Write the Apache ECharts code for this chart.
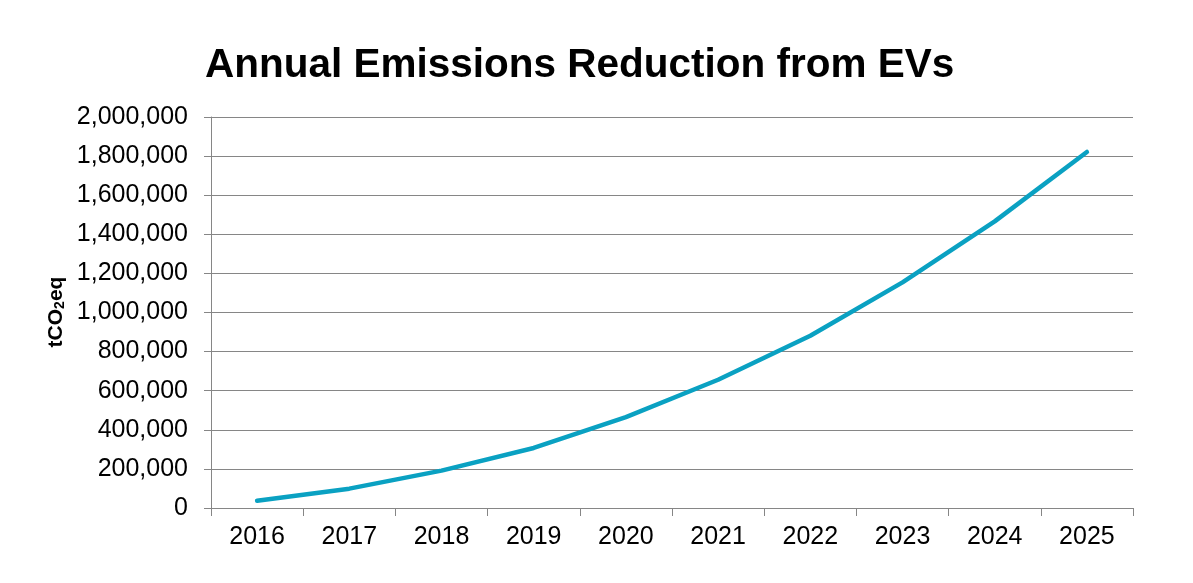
<!DOCTYPE html>
<html>
<head>
<meta charset="utf-8">
<script src="https://cdn.jsdelivr.net/npm/echarts@6/dist/echarts.min.js"></script>
<style>
html,body{margin:0;padding:0;background:#fff;}
#chart{width:1193px;height:583px;}
</style>
</head>
<body>
<div id="chart"></div>
<script>
const titleText = 'Annual Emissions Reduction from EVs';
const years = ['2016','2017','2018','2019','2020','2021','2022','2023','2024','2025'];
const emissions = [37000, 99000, 191000, 307000, 465000, 656000, 881000, 1154000, 1466000, 1821000];
const yMin = 0, yMax = 2000000, yStep = 200000;

const FONT = 'Arial, "Liberation Sans", sans-serif';
const chart = echarts.init(document.getElementById('chart'));
chart.setOption({
  backgroundColor: '#ffffff',
  animation: false,
  title: {
    text: titleText,
    left: 200, top: 40,
    textStyle: { fontFamily: FONT, fontSize: 40.5, fontWeight: 'bold', color: '#000' }
  },
  grid: { left: 211, right: 60, top: 117, bottom: 75 },
  xAxis: {
    type: 'category',
    data: years,
    boundaryGap: true,
    axisLine: { lineStyle: { color: '#868686', width: 1 } },
    axisTick: { show: true, length: 8, alignWithLabel: false, lineStyle: { color: '#868686' } },
    axisLabel: { fontFamily: FONT, fontSize: 25, color: '#000', margin: 17 }
  },
  yAxis: {
    type: 'value',
    min: yMin, max: yMax, interval: yStep,
    axisLine: { show: true, lineStyle: { color: '#868686', width: 1 } },
    axisTick: { show: true, length: 7, lineStyle: { color: '#868686' } },
    splitLine: { show: true, lineStyle: { color: '#868686', width: 1 } },
    axisLabel: {
      fontFamily: FONT, fontSize: 25, color: '#000', margin: 23,
      formatter: v => v.toLocaleString('en-US')
    }
  },
  graphic: [{
    type: 'text',
    x: 56, y: 312,
    rotation: Math.PI / 2,
    style: {
      text: '{a|tCO}{s|2}{a|eq}',
      align: 'center', verticalAlign: 'middle',
      rich: {
        a: { fontFamily: FONT, fontSize: 21, fontWeight: 'bold', fill: '#000', color: '#000' },
        s: { fontFamily: FONT, fontSize: 14, fontWeight: 'bold', fill: '#000', color: '#000', verticalAlign: 'bottom', padding: [8, 0, 0, 0] }
      }
    }
  }],
  series: [{
    type: 'line',
    data: emissions,
    symbol: 'none',
    smooth: false,
    lineStyle: { color: '#0AA1C2', width: 4.5, cap: 'round', join: 'round' }
  }]
});
</script>
</body>
</html>
